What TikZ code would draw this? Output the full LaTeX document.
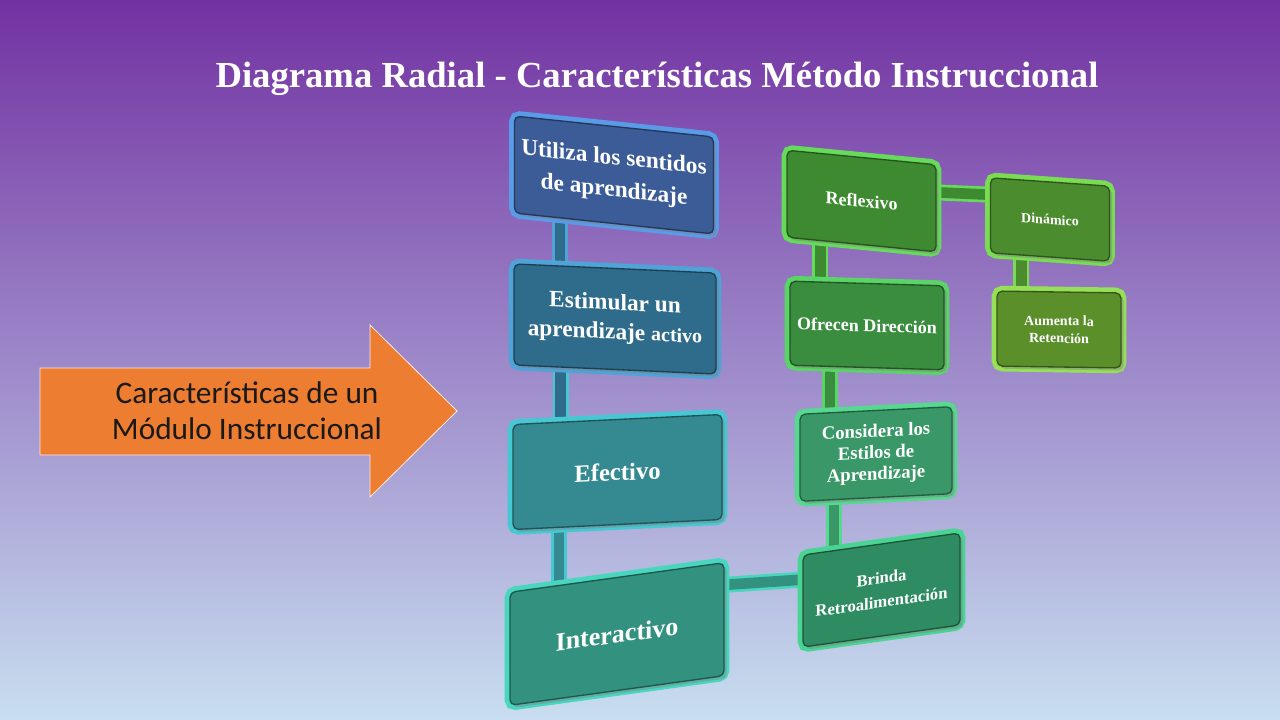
\documentclass[tikz,border=0pt]{standalone}
\usepackage{fontspec}
\setmainfont{Liberation Serif}
\newfontfamily\calibrifont{Carlito}
\usetikzlibrary{calc,shadows}

\definecolor{bgtop}{HTML}{7232A2}
\definecolor{bgmid}{HTML}{9C98D2}
\definecolor{bgbottom}{HTML}{C8DEF0}
\definecolor{arroworange}{HTML}{ED7D31}
\definecolor{utilizafill}{HTML}{3B5C97}
\definecolor{utilizaedge}{HTML}{5A9BE8}
\definecolor{estimularfill}{HTML}{2F6B8A}
\definecolor{estimularedge}{HTML}{4FA3D6}
\definecolor{efectivofill}{HTML}{348A90}
\definecolor{efectivoedge}{HTML}{46C8D2}
\definecolor{interactivofill}{HTML}{32917F}
\definecolor{interactivoedge}{HTML}{48D6BE}
\definecolor{reflexivofill}{HTML}{3E8A30}
\definecolor{reflexivoedge}{HTML}{66DA5A}
\definecolor{ofrecenfill}{HTML}{3A8C3E}
\definecolor{ofrecenedge}{HTML}{5AD466}
\definecolor{considerafill}{HTML}{3A9868}
\definecolor{consideraedge}{HTML}{56D890}
\definecolor{brindafill}{HTML}{2F8C62}
\definecolor{brindaedge}{HTML}{4AD494}
\definecolor{dinamicofill}{HTML}{4B8C2E}
\definecolor{dinamicoedge}{HTML}{7ADC52}
\definecolor{aumentafill}{HTML}{5A8F2A}
\definecolor{aumentaedge}{HTML}{96E058}

\pgfdeclarelayer{back}
\pgfdeclarelayer{bars}
\pgfsetlayers{back,bars,main}

\begin{document}
\begin{tikzpicture}[x={(0.75pt,0)},y={(0,-0.75pt)},
  card/.style 2 args={rectangle,rounded corners=4pt,line width=1pt,fill=#1,draw=#1!60!black,
    preaction={draw=#2,line width=8pt},
    text=white,align=center,inner sep=2pt,
    drop shadow={opacity=.45,shadow xshift=2pt,shadow yshift=-2pt}},
  fs/.style 2 args={font=\bfseries\fontsize{#1}{#2}\selectfont},
  link/.style 2 args={line width=2pt,draw=#2,double=#1,double distance=8pt}]
\begin{pgfonlayer}{back}
\shade[top color=bgtop,middle color=bgmid,bottom color=bgbottom] (0,0) rectangle (1280,720);
\end{pgfonlayer}
\useasboundingbox (0,0) rectangle (1280,720);

% title
\node (title) at (657,79) [text=white,fs={27.5}{32}] {Diagrama Radial - Características Método Instruccional};

% arrow
\draw[fill=arroworange,draw=white!85!arroworange,line width=.6pt]
  (40,368) -- (370,368) -- (370,325) -- (457,411) -- (370,497) -- (370,455) -- (40,455) -- cycle;
\node (arrowtext) at (247,411) [text=black!90,align=center,font=\calibrifont\fontsize{23.5}{27}\selectfont]
  {Características de un\\Módulo Instruccional};

% left column
\node (utiliza) at (614,175) [card={utilizafill}{utilizaedge},yslant=-0.105,minimum width=149.25pt,minimum height=72.75pt,fs={17.5}{24}]
  {Utiliza los sentidos\\de aprendizaje};
\node (estimular) at (615,319) [card={estimularfill}{estimularedge},yslant=-0.045,minimum width=151.5pt,minimum height=75.75pt,fs={17.5}{22}]
  {Estimular un\\aprendizaje {\fontsize{15}{22}\selectfont activo}};
\node (efectivo) at (617.5,472) [card={efectivofill}{efectivoedge},yslant=0.048,minimum width=156.75pt,minimum height=78.75pt,fs={18.5}{21}]
  {Efectivo};
\node (interactivo) at (617,634) [card={interactivofill}{interactivoedge},yslant=0.138,minimum width=160.5pt,minimum height=84.75pt,fs={19.5}{22}]
  {Interactivo};

% middle column
\node (reflexivo) at (861.5,201) [card={reflexivofill}{reflexivoedge},yslant=-0.097,minimum width=111.75pt,minimum height=65.25pt,fs={13.5}{16}]
  {Reflexivo};
\node (ofrecen) at (867,325.5) [card={ofrecenfill}{ofrecenedge},yslant=-0.03,minimum width=115.5pt,minimum height=63pt,fs={13.5}{16}]
  {Ofrecen Dirección};
\node (considera) at (876,454) [card={considerafill}{consideraedge},yslant=0.05,minimum width=114pt,minimum height=65.25pt,fs={14}{16}]
  {Considera los\\Estilos de\\Aprendizaje};
\node (brinda) at (881.5,590) [card={brindafill}{brindaedge},yslant=0.14,minimum width=117.75pt,minimum height=69pt,fs={12.5}{18}]
  {Brinda\\Retroalimentación};

% right column
\node (dinamico) at (1050,219.5) [card={dinamicofill}{dinamicoedge},yslant=-0.07,minimum width=89.25pt,minimum height=56.25pt,fs={10.5}{13}]
  {Dinámico};
\node (aumenta) at (1059,329.5) [card={aumentafill}{aumentaedge},yslant=-0.015,minimum width=93pt,minimum height=56.25pt,fs={10.5}{13}]
  {Aumenta la\\Retención};

% where the bars meet the boxes
\coordinate (utilizabar) at ($(estimular.north west)!0.23!(estimular.north east)$);
\coordinate (estimularbar) at ($(efectivo.north west)!0.23!(efectivo.north east)$);
\coordinate (efectivobar) at ($(interactivo.north west)!0.23!(interactivo.north east)$);
\coordinate (reflexivobar) at ($(ofrecen.north west)!0.2!(ofrecen.north east)$);
\coordinate (ofrecenbar) at ($(considera.north west)!0.2!(considera.north east)$);
\coordinate (considerabar) at ($(brinda.north west)!0.2!(brinda.north east)$);
\coordinate (dinamicobar) at ($(aumenta.north west)!0.2!(aumenta.north east)$);

% bars
\begin{pgfonlayer}{bars}
\draw[link={estimularfill}{estimularedge}] (utiliza.center -| utilizabar) -- (estimular.center -| utilizabar);
\draw[link={estimularfill}{efectivoedge}] (estimular.center -| estimularbar) -- (efectivo.center -| estimularbar);
\draw[link={efectivofill}{efectivoedge}] (efectivo.center -| efectivobar) -- (interactivo.center -| efectivobar);
\draw[link={interactivofill}{interactivoedge}] ($(interactivo.north east)!0.2!(interactivo.south east)$) -- ($(brinda.north west)!0.27!(brinda.south west)$);
\draw[link={reflexivofill}{reflexivoedge}] (reflexivo.center -| reflexivobar) -- (ofrecen.center -| reflexivobar);
\draw[link={ofrecenfill}{ofrecenedge}] (ofrecen.center -| ofrecenbar) -- (considera.center -| ofrecenbar);
\draw[link={considerafill}{consideraedge}] (considera.center -| considerabar) -- (brinda.center -| considerabar);
\draw[link={reflexivofill}{reflexivoedge}] ($(reflexivo.north east)!0.32!(reflexivo.south east)$) -- ($(dinamico.north west)!0.23!(dinamico.south west)$);
\draw[link={dinamicofill}{dinamicoedge}] (dinamico.center -| dinamicobar) -- (aumenta.center -| dinamicobar);
\end{pgfonlayer}
\end{tikzpicture}
\end{document}
